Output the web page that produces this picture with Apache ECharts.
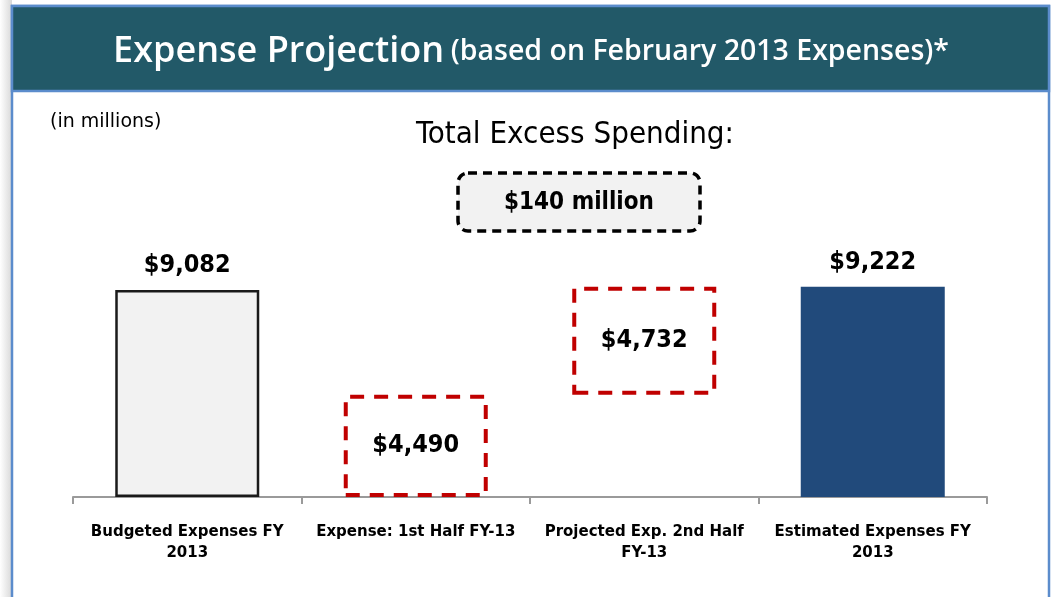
<!DOCTYPE html>
<html>
<head>
<meta charset="utf-8">
<script src="https://cdn.jsdelivr.net/npm/echarts@6/dist/echarts.min.js"></script>
<style>
html,body{margin:0;padding:0;background:#fff;}
#c{width:1053px;height:597px;}
</style>
</head>
<body>
<div id="c"></div>
<script>
// ---- data ----
var categories = ['Budgeted Expenses FY\n2013', 'Expense: 1st Half FY-13', 'Projected Exp. 2nd Half\nFY-13', 'Estimated Expenses FY\n2013'];
var budgeted = 9082;
var firstHalf = 4490;
var secondHalf = 4732;
var estimated = 9222;
var baseValues = [0, 0, firstHalf, 0];           // invisible offsets for the floating bar
var barValues = [budgeted, firstHalf, secondHalf, estimated];
var excess = estimated - budgeted;

function money(v){ return '$' + v.toLocaleString('en-US'); }

var bodyFont = '"DejaVu Sans", sans-serif';
var condFont = '"DejaVu Sans Condensed", "DejaVu Sans", sans-serif';
var titleFont = '"Open Sans", "Noto Sans", sans-serif';

var chart = echarts.init(document.getElementById('c'), null, {renderer:'canvas'});

var red = '#c00000';
var styles = [
  {color:'#f2f2f2', borderColor:'#1a1a1a', borderWidth:2.5, borderType:'solid'},
  {color:'rgba(0,0,0,0)', borderColor:red, borderWidth:4, borderType:[14,10]},
  {color:'rgba(0,0,0,0)', borderColor:red, borderWidth:4, borderType:[14,10]},
  {color:'#214a7b', borderWidth:0}
];
var labelPos = ['top','inside','inside','top'];

var visData = barValues.map(function(v,i){
  return {
    value: v,
    itemStyle: styles[i],
    label: {
      show:true, position: labelPos[i], distance: 12,
      formatter: money(v),
      fontFamily: condFont, fontWeight:'bold', fontSize: 25, color:'#000'
    }
  };
});

var option = {
  backgroundColor:'#ffffff',
  animation:false,
  grid:{left:73, right:66, top:269, bottom:100, containLabel:false},
  xAxis:{
    type:'category', data:categories,
    axisLine:{show:true, lineStyle:{color:'#9a9a9a', width:2}},
    axisTick:{show:true, alignWithLabel:false, length:7, lineStyle:{color:'#9a9a9a', width:2}},
    axisLabel:{
      interval:0, margin:25, color:'#000', fontFamily: bodyFont, fontWeight:'bold',
      fontSize:15, lineHeight:21
    }
  },
  yAxis:{
    type:'value', min:0, max:10000, interval:2000, show:false,
    splitLine:{show:false}
  },
  series:[
    {type:'bar', stack:'w', data:baseValues, barWidth:144,
     itemStyle:{color:'rgba(0,0,0,0)'}, silent:true},
    {type:'bar', stack:'w', data:visData, barWidth:144}
  ],
  graphic:[
    // left shadow
    {type:'rect', shape:{x:0,y:0,width:12,height:597}, z:-10,
     style:{fill:new echarts.graphic.LinearGradient(0,0,1,0,[{offset:0,color:'#ffffff'},{offset:1,color:'#d8d8d8'}])}},
    // panel borders
    {type:'rect', shape:{x:12,y:6,width:1037,height:620}, z:-5,
     style:{fill:'#ffffff', stroke:'#5b8ccc', lineWidth:2.5}},
    // title band
    {type:'rect', shape:{x:12,y:6,width:1037,height:85}, z:1,
     style:{fill:'#225968', stroke:'#5b8ccc', lineWidth:2.5}},
    {type:'text', x:531, y:52, z:2,
     style:{
       text:'{a|Expense Projection}  {b|(based on February 2013 Expenses)*}',
       align:'center', verticalAlign:'middle',
       rich:{
         a:{fontFamily:titleFont, fontWeight:600, fontSize:36, fill:'#ffffff', color:'#ffffff'},
         b:{fontFamily:titleFont, fontWeight:600, fontSize:28.5, fill:'#ffffff', color:'#ffffff'}
       }
     }},
    {type:'text', x:50, y:122, z:2,
     style:{text:'(in millions)', fontFamily:bodyFont, fontSize:19, fill:'#000', align:'left', verticalAlign:'middle'}},
    {type:'text', x:575, y:135, z:2,
     style:{text:'Total Excess Spending:', fontFamily:condFont, fontSize:31, fill:'#000', align:'center', verticalAlign:'middle'}},
    {type:'rect', shape:{x:458,y:173,width:242,height:58,r:10}, z:2,
     style:{fill:'#f2f2f2', stroke:'#000', lineWidth:3.5, lineDash:[9,6]}},
    {type:'text', x:579, y:203, z:3,
     style:{text: money(excess) + ' million', fontFamily:condFont, fontWeight:'bold', fontSize:24, fill:'#000', align:'center', verticalAlign:'middle'}}
  ]
};
chart.setOption(option);
</script>
</body>
</html>
